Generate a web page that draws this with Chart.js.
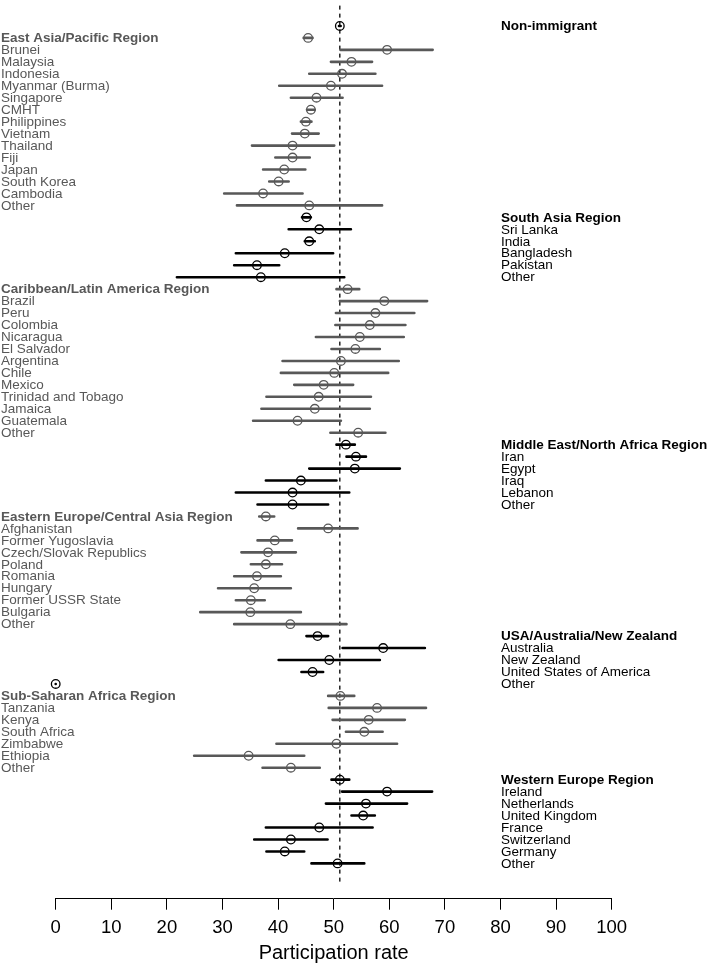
<!DOCTYPE html>
<html><head><meta charset="utf-8">
<script src="https://cdn.jsdelivr.net/npm/chart.js@4"></script>
<style>html,body{margin:0;padding:0;background:#fff}</style>
</head><body>
<canvas id="c" width="709" height="971"></canvas>
<script>
// ---------- DATA ----------
const groups = ['Non-immigrant','East Asia/Pacific Region','South Asia Region','Caribbean/Latin America Region',
  'Middle East/North Africa Region','Eastern Europe/Central Asia Region','USA/Australia/New Zealand',
  'Sub-Saharan Africa Region','Western Europe Region'];
const rowLabels = [
  'Non-immigrant',
  'East Asia/Pacific Region','Brunei','Malaysia','Indonesia','Myanmar (Burma)','Singapore','CMHT','Philippines','Vietnam','Thailand','Fiji','Japan','South Korea','Cambodia','Other',
  'South Asia Region','Sri Lanka','India','Bangladesh','Pakistan','Other',
  'Caribbean/Latin America Region','Brazil','Peru','Colombia','Nicaragua','El Salvador','Argentina','Chile','Mexico','Trinidad and Tobago','Jamaica','Guatemala','Other',
  'Middle East/North Africa Region','Iran','Egypt','Iraq','Lebanon','Other',
  'Eastern Europe/Central Asia Region','Afghanistan','Former Yugoslavia','Czech/Slovak Republics','Poland','Romania','Hungary','Former USSR State','Bulgaria','Other',
  'USA/Australia/New Zealand','Australia','New Zealand','United States of America','Other',
  'Sub-Saharan Africa Region','Tanzania','Kenya','South Africa','Zimbabwe','Ethiopia','Other',
  'Western Europe Region','Ireland','Netherlands','United Kingdom','France','Switzerland','Germany','Other'
];
const rowGroup = [
  0,
  1,1,1,1,1,1,1,1,1,1,1,1,1,1,1,
  2,2,2,2,2,2,
  3,3,3,3,3,3,3,3,3,3,3,3,3,
  4,4,4,4,4,4,
  5,5,5,5,5,5,5,5,5,5,
  6,6,6,6,6,
  7,7,7,7,7,7,7,
  8,8,8,8,8,8,8,8
];
const rate = [
  51.1,
  45.4,59.6,53.2,51.5,49.5,46.9,45.9,45.0,44.8,42.6,42.6,41.1,40.1,37.3,45.6,
  45.1,47.4,45.6,41.2,36.2,36.9,
  52.5,59.1,57.5,56.5,54.7,53.9,51.3,50.1,48.2,47.3,46.6,43.5,54.4,
  52.2,54.0,53.8,44.1,42.6,42.6,
  37.8,49.0,39.4,38.2,37.8,36.2,35.7,35.1,35.0,42.2,
  47.1,58.9,49.2,46.2,0,
  51.2,57.8,56.3,55.5,50.5,34.7,42.3,
  51.1,59.6,55.8,55.3,47.4,42.3,41.2,50.7
];
const lower = [
  50.95,
  44.6,51.2,49.5,45.6,40.2,42.3,45.2,44.1,42.5,35.3,39.5,37.3,38.4,30.3,32.6,
  44.3,41.9,44.8,32.4,32.1,21.8,
  50.5,51.1,50.4,50.3,46.8,49.6,40.8,40.5,42.9,37.9,37.0,35.5,49.4,
  50.5,52.3,45.6,37.8,32.4,36.3,
  36.6,43.6,36.3,33.4,35.1,32.1,29.2,32.4,26.0,32.1,
  45.1,51.6,40.1,44.2,0,
  49.0,49.1,49.8,52.2,39.7,24.9,37.2,
  49.6,51.5,48.6,53.2,37.8,35.7,37.9,46.0
];
const upper = [
  51.25,
  46.2,67.8,56.9,57.5,58.7,51.6,46.6,46.0,47.3,50.1,45.7,44.9,41.9,44.4,58.7,
  45.9,53.1,46.6,49.9,40.2,51.9,
  54.6,66.8,64.5,62.9,62.6,58.3,61.7,59.8,53.5,56.7,56.5,51.3,59.3,
  53.8,55.8,61.9,50.5,52.8,49.0,
  39.3,54.3,42.5,43.2,40.7,40.5,42.3,37.6,44.1,52.3,
  49.0,66.4,58.3,48.1,0,
  53.7,66.6,62.8,58.8,61.4,44.7,47.5,
  52.8,67.7,63.2,57.4,57.0,48.9,44.7,55.5
];
const referenceRate = 51.1;
const xTicks = [0,10,20,30,40,50,60,70,80,90,100];
const axisTitle = 'Participation rate';

// ---------- STYLE ----------
const GREY = '#585858';
const FONT = '"Liberation Sans", Arial, Helvetica, sans-serif';
const colorOf = g => (g % 2 ? GREY : '#000000');

const ciGrey = [], ciBlack = [];
rowLabels.forEach((_, i) => {
  const t = rowGroup[i] % 2 ? ciGrey : ciBlack;
  t.push({x: lower[i], y: i}, {x: upper[i], y: i}, {x: null, y: null});
});
const points = rate.map((v, i) => ({x: v, y: i}));

const labelPlugin = {
  id: 'rowLabels',
  afterDatasetsDraw(chart) {
    const {ctx, scales: {y}} = chart;
    ctx.save();
    ctx.textBaseline = 'middle';
    ctx.textAlign = 'left';
    rowLabels.forEach((txt, i) => {
      const g = rowGroup[i];
      const heading = i === 0 || rowGroup[i - 1] !== g;
      ctx.font = (heading ? 'bold ' : '') + '13.5px ' + FONT;
      ctx.fillStyle = colorOf(g);
      ctx.fillText(txt, g % 2 ? 1 : 501, y.getPixelForValue(i) + 0.5);
    });
    ctx.restore();
  }
};

Chart.defaults.font.family = FONT;
new Chart(document.getElementById('c'), {
  type: 'scatter',
  data: {
    datasets: [
      {
        data: points, showLine: false, clip: false,
        pointRadius: 4.3, pointHoverRadius: 4.3, pointBorderWidth: 1.3,
        pointBackgroundColor: 'rgba(0,0,0,0)',
        pointBorderColor: c => colorOf(rowGroup[c.dataIndex])
      },
      {
        data: ciGrey, showLine: true, clip: false, spanGaps: false,
        borderColor: GREY, borderWidth: 2.6, borderCapStyle: 'round', pointRadius: 0
      },
      {
        data: ciBlack, showLine: true, clip: false, spanGaps: false,
        borderColor: '#000', borderWidth: 2.6, borderCapStyle: 'round', pointRadius: 0
      },
      {
        data: [{x: referenceRate, y: -1.7}, {x: referenceRate, y: 71.7}],
        showLine: true, clip: false, borderColor: '#000', borderWidth: 1.3,
        borderDash: [4, 4], pointRadius: 0
      }
    ]
  },
  options: {
    responsive: false, animation: false, devicePixelRatio: 1,
    layout: {padding: {left: 55.7, right: 97.3, top: 3.9, bottom: 0}},
    plugins: {legend: {display: false}, tooltip: {enabled: false}},
    events: [],
    scales: {
      x: {
        type: 'linear', min: 0, max: 100, position: 'bottom',
        afterBuildTicks: s => { s.ticks = xTicks.map(v => ({value: v})); },
        afterFit: s => { s.height = 72.3; },
        ticks: {font: {size: 18.5}, color: '#000', padding: 7, maxRotation: 0, autoSkip: false},
        grid: {drawOnChartArea: false, drawTicks: true, tickLength: 11, color: '#000', lineWidth: 1},
        border: {display: true, color: '#000', width: 1},
        title: {display: true, text: axisTitle, font: {size: 20}, color: '#000', padding: {top: 0, bottom: 6}}
      },
      y: {type: 'linear', min: -1.7, max: 72.95, reverse: true, display: false}
    }
  },
  plugins: [labelPlugin]
});
</script>
</body></html>
